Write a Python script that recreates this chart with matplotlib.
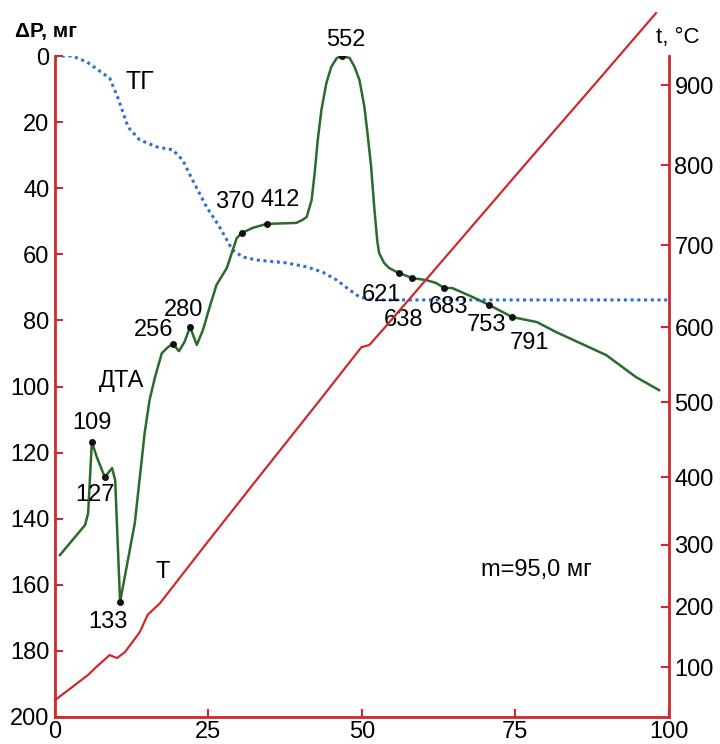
import numpy as np
import matplotlib
matplotlib.use('Agg')
from matplotlib import pyplot as plt

plt.rcParams['font.family'] = ['Liberation Sans', 'DejaVu Sans']

# TG curve (mass loss, mg) vs time
tg_x = [0, 2.8, 5.2, 8.9, 10.2, 11.9, 13.8, 16.6, 19.2, 20.8, 22.4, 24.7, 26.8, 28.0, 28.9,
        30.6, 32.8, 37.7, 41.0, 43.6, 45.9, 48.0, 49.6, 51.7, 99.7]
tg_y = [0, 0, 1.8, 6.7, 12.4, 21.5, 25.4, 27.5, 28.4, 31.5, 37.5, 45.7, 51.7, 55.7, 58.7,
        60.8, 61.7, 62.6, 63.8, 65.4, 67.8, 70.8, 72.9, 73.8, 73.8]

# DTA curve (plotted on the dP scale)
dta_x = [0.8, 4.9, 5.4, 6.0, 6.8, 8.1, 9.3, 9.8, 10.6, 13.0, 14.6, 15.4, 16.3, 17.4, 18.4,
         19.2, 20.2, 21.1, 22.0, 23.1, 24.1, 25.2, 26.3, 28.0, 28.8, 29.6, 30.4, 32.2, 34.5,
         39.3, 40.3, 41.0, 41.8, 42.3, 42.8, 43.4, 44.2, 45.0, 45.9, 46.8, 48.0, 48.8, 49.6,
         50.4, 50.9, 51.5, 52.0, 52.5, 52.8, 53.6, 54.4, 55.3, 56.1, 58.2,
         60.5, 62.1, 63.4, 64.7, 68.0, 70.7, 74.5, 78.5, 81.6, 89.8, 94.6, 98.4]
dta_y = [151.0, 141.9, 138.3, 116.8, 121.3, 127.4, 124.7, 128.3, 165.2, 141.3, 114.1, 104.1,
         97.1, 89.9, 88.1, 87.1, 89.3, 86.5, 82.0, 87.4, 82.9, 75.9, 69.3, 64.1, 59.6, 55.1,
         53.6, 52.0, 50.8, 50.5, 49.6, 48.7, 43.6, 35.4, 25.4, 16.3, 8.2, 3.3, 0.6, 0.0, 0.6,
         3.3, 7.3, 15.4, 23.3, 33.6, 45.7, 56.0, 59.6, 62.6, 64.1, 65.0, 65.7, 67.2,
         67.8, 68.7, 70.2, 70.2, 72.9, 75.3, 79.0, 80.5, 83.5, 90.5, 97.1, 101.1]

# marked DTA points and their temperatures
peak_x = [6.0, 8.1, 10.6, 19.2, 22.0, 30.4, 34.5, 46.8, 56.1, 58.2, 63.4, 70.7, 74.5]
peak_y = [116.8, 127.4, 165.2, 87.1, 82.0, 53.6, 50.8, 0.0, 65.7, 67.2, 70.2, 75.3, 79.0]
peak_labels = ['109', '127', '133', '256', '280', '370', '412', '552', '621', '638', '683', '753', '791']

# T curve, deg C
t_x = [0, 5.4, 6.5, 8.9, 10.1, 11.4, 13.8, 15.1, 17.1, 24.5, 33.2, 42.9, 49.9, 51.2,
       53.8, 65.3, 76.5, 87.8, 97.9]
t_y = [45, 87, 98, 120, 115, 125, 158, 187, 206, 300, 400, 500, 573, 576,
       600, 700, 800, 900, 990]

# right axis is not linear in the original: temperature vs equivalent dP position
calib_t = [0, 100, 200, 300, 400, 500, 600, 700, 800, 900, 1000]
calib_dp = [203.1, 184.9, 166.7, 147.9, 127.4, 104.7, 82.0, 57.2, 33.0, 8.8, -15.4]

# label offsets in pixels (layout only)
label_off = [(0, 19), (-10, -18), (-12, -20), (-19, 14), (-6, 17), (-7, 31), (13, 24),
             (3, 16), (-18, -22), (-9, -42), (4, -19), (-3, -20), (17, -26)]

red = '#cc2a2e'
green = '#2b6a2b'
blue = '#2f6fd3'

fig = plt.figure(figsize=(7.2, 7.44), dpi=100)
ax = fig.add_axes([0.0764, 0.0363, 0.8526, 0.8884])

ax.plot(tg_x, tg_y, color=blue, linestyle=(0, (1, 1.2)), linewidth=2.2)
ax.plot(dta_x, dta_y, color=green, linewidth=1.8)
ax.plot(peak_x, peak_y, 'o', color='#111111', markersize=4)
for px, py, lab, off in zip(peak_x, peak_y, peak_labels, label_off):
    ax.annotate(lab, (px, py), xytext=off, textcoords='offset pixels',
                ha='center', va='center', fontsize=17)

ax.set_xlim(0, 100)
ax.set_ylim(200, 0)
ax.set_xticks([0, 25, 50, 75, 100])
ax.set_yticks(np.arange(0, 201, 20))

ax.text(13.8, 7.9, 'ТГ', fontsize=18, ha='center', va='center')
ax.text(10.9, 98.3, 'ДТА', fontsize=17, ha='center', va='center')
ax.text(17.6, 156.1, 'Т', fontsize=17, ha='center', va='center')
ax.text(78.4, 155.5, 'm=95,0 мг', fontsize=17, ha='center', va='center')


def fwd(t):
    return -np.interp(t, calib_t, calib_dp)


def inv(v):
    return np.interp(-np.asarray(v), calib_dp[::-1], calib_t[::-1])


ax2 = ax.twinx()
ax2.set_yscale('function', functions=(fwd, inv))
ax2.set_ylim(inv(-200), inv(0))
ax2.plot(t_x, t_y, color=red, linewidth=1.6, clip_on=False)
ax2.set_yticks([100, 200, 300, 400, 500, 600, 700, 800, 900])
ax2.set_yticklabels(['100', '200', '300', '400', '500', '600', '700', '800', '900'])
ax2.yaxis.set_minor_locator(matplotlib.ticker.NullLocator())

for a in (ax, ax2):
    for s in a.spines.values():
        s.set_color(red)
        s.set_linewidth(2)
    a.spines['top'].set_visible(False)
    a.tick_params(direction='in', length=6, width=1.5, color=red, labelsize=17, pad=4)
ax.spines['right'].set_visible(False)
ax2.spines['left'].set_visible(False)
ax2.spines['bottom'].set_visible(False)
ax.tick_params(axis='x', pad=3)

fig.text(0.064, 0.958, 'ΔP, мг', fontsize=15, fontweight='bold', ha='center', va='center')
fig.text(0.942, 0.949, 't, °C', fontsize=16, ha='center', va='center')

plt.savefig('out.png', dpi=100)
